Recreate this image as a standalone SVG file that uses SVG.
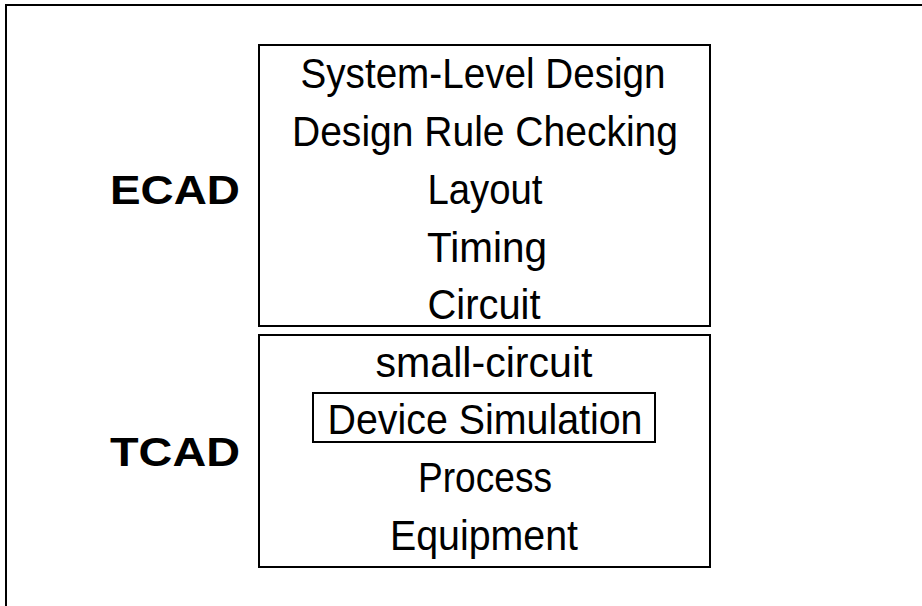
<svg xmlns="http://www.w3.org/2000/svg" width="922" height="606" viewBox="0 0 922 606">
<style>
.box{fill:none;stroke:#000;stroke-width:2}
.t{font-family:"Liberation Sans",Arial,sans-serif;font-size:42px;text-anchor:middle;fill:#000}
.lbl{font-family:"Liberation Sans",Arial,sans-serif;font-size:40px;font-weight:bold;text-anchor:end;fill:#000}
</style>
<rect width="922" height="606" fill="#fff"/>
<g id="frame"><rect class="box" x="6" y="5" width="1000" height="1000" stroke-width="2.5"/></g>
<g id="ecad-label"><text class="lbl" x="240" y="204" textLength="130" lengthAdjust="spacingAndGlyphs">ECAD</text></g>
<g id="tcad-label"><text class="lbl" x="240" y="466" textLength="130" lengthAdjust="spacingAndGlyphs">TCAD</text></g>
<g id="ecad">
<rect class="box" x="259" y="45" width="451" height="281"/>
<text class="t" x="483" y="88" textLength="365" lengthAdjust="spacingAndGlyphs">System-Level Design</text>
<text class="t" x="485" y="146" textLength="386" lengthAdjust="spacingAndGlyphs">Design Rule Checking</text>
<text class="t" x="485" y="204" textLength="115" lengthAdjust="spacingAndGlyphs">Layout</text>
<text class="t" x="487" y="262" textLength="120" lengthAdjust="spacingAndGlyphs">Timing</text>
<text class="t" x="484" y="319" textLength="113" lengthAdjust="spacingAndGlyphs">Circuit</text>
</g>
<g id="tcad">
<rect class="box" x="259" y="335" width="451" height="232"/>
<text class="t" x="484" y="377" textLength="217" lengthAdjust="spacingAndGlyphs">small-circuit</text>
<text class="t" x="485" y="492" textLength="134" lengthAdjust="spacingAndGlyphs">Process</text>
<text class="t" x="484" y="550" textLength="188" lengthAdjust="spacingAndGlyphs">Equipment</text>
</g>
<g id="device-simulation">
<rect class="box" x="313" y="393" width="342" height="49"/>
<text class="t" x="485" y="434" textLength="315" lengthAdjust="spacingAndGlyphs">Device Simulation</text>
</g>
<g id="connectors"></g>
</svg>
